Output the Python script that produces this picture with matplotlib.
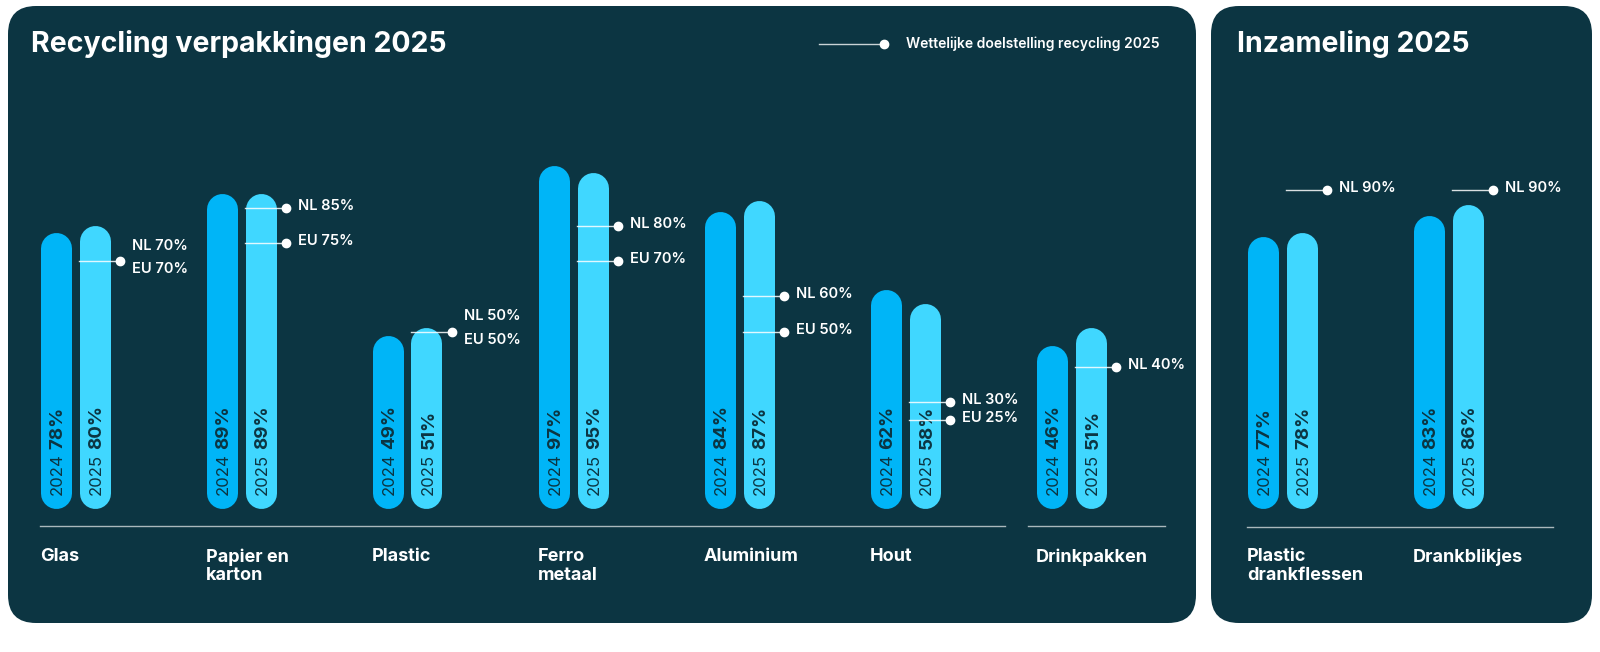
import matplotlib
matplotlib.use('Agg')
import matplotlib.pyplot as plt
from matplotlib.patches import FancyBboxPatch

recycling_categories = ['Glas', 'Papier en\nkarton', 'Plastic', 'Ferro\nmetaal',
                        'Aluminium', 'Hout', 'Drinkpakken']
recycling_2024 = [78, 89, 49, 97, 84, 62, 46]
recycling_2025 = [80, 89, 51, 95, 87, 58, 51]
recycling_targets = [
    [('NL', 70), ('EU', 70)],
    [('NL', 85), ('EU', 75)],
    [('NL', 50), ('EU', 50)],
    [('NL', 80), ('EU', 70)],
    [('NL', 60), ('EU', 50)],
    [('NL', 30), ('EU', 25)],
    [('NL', 40)],
]

inzameling_categories = ['Plastic\ndrankflessen', 'Drankblikjes']
inzameling_2024 = [77, 83]
inzameling_2025 = [78, 86]
inzameling_targets = [[('NL', 90)], [('NL', 90)]]

years = ['2024', '2025']

# styling
W, H = 1600, 652
PANEL = '#0c3542'
C2024 = '#00b5f7'
C2025 = '#40d7ff'
DARK = '#0c3542'
TITLE_FONT = 'Inter'
TEXT_FONT = 'Inter'

PITCH = 166.0       # px between groups
BAR_W = 31.0        # px
GAP = 39.0          # px between 2024 and 2025 bar centres
BASE = 508.0        # px from top where bars start
PX_PER_PCT = 3.53

fig = plt.figure(figsize=(W / 100, H / 100), dpi=100)
fig.patch.set_facecolor('white')

bg = fig.add_axes([0, 0, 1, 1])
bg.set_xlim(0, W)
bg.set_ylim(H, 0)
bg.axis('off')

for x0, x1 in [(8, 1196), (1211, 1592)]:
    bg.add_patch(FancyBboxPatch((x0, 6), x1 - x0, 617,
                                boxstyle='round,pad=0,rounding_size=28',
                                fc=PANEL, ec='none'))

bg.text(31, 44, 'Recycling verpakkingen 2025', color='white', fontsize=20.5,
        fontweight='bold', family=TITLE_FONT, va='center', ha='left')
bg.text(1237, 44, 'Inzameling 2025', color='white', fontsize=20.5,
        fontweight='bold', family=TITLE_FONT, va='center', ha='left')

# legend
bg.plot([819, 884], [44, 44], color='#c9d3d6', lw=1)
bg.plot([884], [44], 'o', color='white', ms=6)
bg.text(906, 44, 'Wettelijke doelstelling recycling 2025', color='white',
        fontsize=10, fontweight='semibold', family=TEXT_FONT, va='center')

# separators
for x0, x1, y in [(40, 1005, 526), (1028, 1165, 526), (1247, 1553, 527)]:
    bg.plot([x0, x1], [y, y], color='#aab8bc', lw=1)


def make_axes(first_centre, n):
    left = first_centre - 0.4 * PITCH
    width = (n - 0.2) * PITCH
    top = BASE - 100 * PX_PER_PCT
    height = 100 * PX_PER_PCT
    ax = fig.add_axes([left / W, 1 - (top + height) / H, width / W, height / H])
    ax.set_xlim(-0.4, n - 0.6)
    ax.set_ylim(0, 100)
    ax.axis('off')
    ax.patch.set_alpha(0)
    return ax


def draw_panel(ax, cats, v24, v25, targets):
    off = GAP / PITCH
    half = BAR_W / 2 / PITCH
    r = BAR_W / 2 / PX_PER_PCT
    px = 1 / PITCH
    for i, cat in enumerate(cats):
        for xc, v, col, yr in [(i, v24[i], C2024, years[0]),
                               (i + off, v25[i], C2025, years[1])]:
            ax.plot([xc, xc], [r, v - r], color=col, lw=BAR_W * 0.72,
                    solid_capstyle='round', zorder=2, clip_on=False)
            ax.annotate(yr, xy=(xc, 0), xytext=(6, 13), textcoords='offset pixels',
                        rotation=90, rotation_mode='anchor', ha='left', va='baseline',
                        fontsize=12, color=DARK, family=TEXT_FONT, zorder=3)
            ax.annotate('%d%%' % v, xy=(xc, 0), xytext=(7, 59),
                        textcoords='offset pixels', rotation=90,
                        rotation_mode='anchor', ha='left', va='baseline',
                        fontsize=13.5, fontweight='bold', color=DARK,
                        family=TEXT_FONT, zorder=3)

        # target lines
        x_start = i + off - half
        x_dot = i + off + half + 10 * px
        vals = {}
        for lab, val in targets[i]:
            vals.setdefault(val, []).append(lab)
        for val, labs in vals.items():
            ax.plot([x_start, x_dot], [val, val], color='white', lw=1,
                    alpha=0.85, zorder=4, clip_on=False)
            ax.plot([x_dot], [val], 'o', color='white', ms=6, zorder=5,
                    clip_on=False)
            if len(labs) == 1:
                shifts = [2]
            else:
                shifts = [15, -8]
            for lab, s in zip(labs, shifts):
                ax.annotate('%s %d%%' % (lab, val), xy=(x_dot, val),
                            xytext=(12, s), textcoords='offset pixels',
                            ha='left', va='center', fontsize=10.5,
                            fontweight='semibold', color='white',
                            family=TEXT_FONT)

        ax.annotate(cat, xy=(i - half, 0), xytext=(0, -40),
                    textcoords='offset pixels', ha='left', va='top',
                    fontsize=13, fontweight='bold', color='white',
                    family=TITLE_FONT, linespacing=1.15, annotation_clip=False)


axL = make_axes(40 + BAR_W / 2, len(recycling_categories))
draw_panel(axL, recycling_categories, recycling_2024, recycling_2025, recycling_targets)

axR = make_axes(1247 + BAR_W / 2, len(inzameling_categories))
draw_panel(axR, inzameling_categories, inzameling_2024, inzameling_2025, inzameling_targets)

fig.savefig('out.png', dpi=100, facecolor='white')
